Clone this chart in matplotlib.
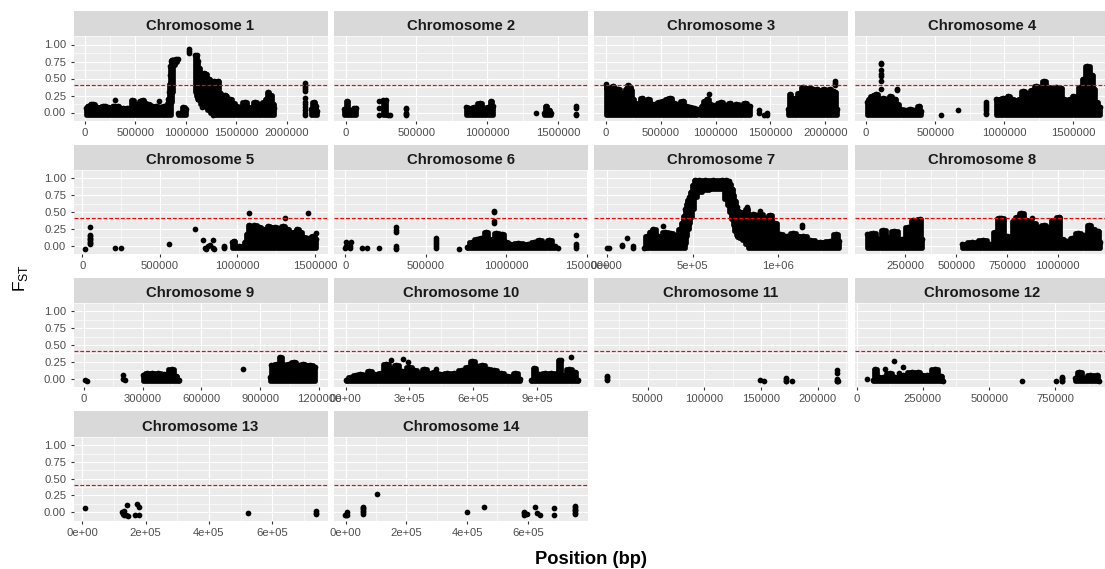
import numpy as np
import matplotlib
matplotlib.use("Agg")
import matplotlib.pyplot as plt

plt.rcParams['font.family'] = ['Liberation Sans', 'DejaVu Sans']
plt.rcParams['mathtext.fontset'] = 'custom'
plt.rcParams['mathtext.rm'] = 'Liberation Sans'

nan = float('nan')
threshold = 0.41
floor = -0.04

# pos/top/low = outline of the overplotted point clouds, nan = gap between clouds
chr1_pos = [5000, 30000, 60000, 80000, 115000, 150000, 175000, 200000, 225000, 250000, 275000, 300000, 325000, 350000,
            375000, 400000, 420000, 440000, 470000, 495000, 520000, 545000, 570000, 595000, 620000, 660000, 700000,
            740000, 780000, 805000, 820000, 826000, 832000, 838000, 842000, 846000, 850000, 858000, 865000, 872000,
            880000, 900000, 925000, nan,
            925000, 945000, 975000, 1000000, nan,
            1090000, 1105000, 1115000, 1130000, 1150000, 1175000, 1200000, 1225000, 1250000, 1280000, 1320000, 1340000,
            1355000, 1370000, 1385000, 1400000, 1420000, 1440000, 1470000, 1500000, 1540000, 1580000, 1620000, 1650000,
            1680000, 1730000, 1770000, 1790000, 1810000, 1835000, 1860000, 1875000, nan,
            2235000, 2265000, 2285000, 2300000]
chr1_top = [0.07, 0.09, 0.13, 0.12, 0.08, 0.07, 0.09, 0.1, 0.08, 0.07, 0.09, 0.1, 0.09, 0.07,
            0.06, 0.04, 0.06, 0.07, 0.18, 0.12, 0.13, 0.17, 0.18, 0.14, 0.12, 0.1, 0.09,
            0.08, 0.09, 0.1, 0.14, 0.2, 0.3, 0.42, 0.55, 0.68, 0.76, 0.77, 0.77, 0.77,
            0.77, 0.78, 0.79, nan,
            -0.01, 0.0, 0.08, 0.05, nan,
            0.84, 0.84, 0.76, 0.66, 0.56, 0.58, 0.56, 0.5, 0.47, 0.47, 0.47, 0.28,
            0.2, 0.14, 0.26, 0.24, 0.18, 0.2, 0.14, 0.1, 0.08, 0.16, 0.04, 0.08,
            0.15, 0.13, 0.15, 0.2, 0.3, 0.26, 0.13, 0.06, nan,
            0.05, 0.16, 0.1, 0.02]
chr1_low = [-0.04] * 35 + [-0.04, 0.02, 0.15, 0.3, 0.5,
            0.7, 0.74, 0.78, nan,
            -0.04, -0.04, -0.04, -0.04, nan,
            0.3, 0.24, 0.2, 0.18, 0.13, 0.1, 0.08, 0.04, 0.0] + [-0.04] * 23 + [nan,
            -0.04, -0.04, -0.04, -0.04]
chr1_dot_x = [1026000, 1026000, 1026000, 294000, 733000, 1161000, 1267000, 2178000, 2178000, 2178000, 2178000,
              2178000, 2178000, 2178000, 2178000, 2178000, 2178000, 2178000, 2178000]
chr1_dot_y = [0.93, 0.9, 0.87, 0.19, 0.175, 0.08, -0.03, 0.44, 0.41, 0.38, 0.35,
              0.31, 0.22, 0.16, 0.12, 0.08, 0.04, 0.0, -0.03]

chr2_pos = [-10000, 10000, 25000, 45000, 60000, 75000, nan, 265000, 285000, nan,
            850000, 870000, 905000, 950000, 975000, 1005000, 1025000, 1040000, nan,
            1395000, 1410000, 1430000, 1450000]
chr2_top = [0.05, 0.17, 0.03, -0.01, 0.06, 0.06, nan, 0.19, 0.19, nan,
            0.08, 0.02, 0.08, 0.14, 0.07, 0.08, 0.17, 0.1, nan,
            0.0, 0.09, 0.03, -0.01]
chr2_dot_x = [235000, 235000, 235000, 300000, 310000, 429000, 429000, 429000, 429000, 429000, 1341000,
              1624000, 1624000, 1624000, 1624000]
chr2_dot_y = [0.17, 0.06, -0.03, -0.03, -0.03, 0.06, 0.05, 0.0, -0.02, -0.04, 0.0,
              0.09, 0.07, -0.02, -0.04]

chr3_pos = [0, 12000, 25000, 45000, 65000, 85000, 100000, 115000, 140000, 160000, 185000, 205000, 220000, 235000, 250000,
            265000, 300000, 330000, 345000, 360000, 390000, 420000, 450000, 490000, 525000, 555000, 585000, 620000,
            650000, 700000, 735000, 770000, 800000, 830000, nan,
            860000, 880000, 900000, 925000, 950000, 975000, 1000000, 1025000, 1050000, 1090000, 1130000, 1160000,
            1190000, 1230000, 1270000, 1310000, nan,
            1660000, 1680000, 1700000, 1720000, 1760000, 1800000, 1830000, 1860000, 1890000, 1920000, 1950000,
            1985000, 2010000, 2040000, 2065000, 2090000, 2110000]
chr3_top = [0.42, 0.36, 0.34, 0.37, 0.39, 0.31, 0.34, 0.34, 0.26, 0.29, 0.34, 0.4, 0.37, 0.33, 0.2,
            0.13, 0.14, 0.22, 0.15, 0.17, 0.2, 0.12, 0.13, 0.15, 0.17, 0.2, 0.22, 0.14,
            0.13, 0.17, 0.1, 0.08, 0.07, 0.05, nan,
            0.02, 0.1, 0.17, 0.2, 0.13, 0.11, 0.1, 0.14, 0.15, 0.11, 0.14, 0.1,
            0.13, 0.1, 0.14, 0.09, nan,
            0.05, 0.27, 0.22, 0.2, 0.28, 0.38, 0.34, 0.36, 0.32, 0.35, 0.31, 0.34, 0.3, 0.35, 0.31, 0.3, 0.05]
chr3_dot_x = [945000, 1400000, 1400000, 1440000, 1470000, 1470000, 2090000, 2090000, 2090000]
chr3_dot_y = [0.27, 0.03, -0.01, -0.03, -0.03, -0.01, 0.47, 0.44, 0.41]

chr4_pos = [5000, 20000, 40000, 60000, 75000, 100000, 125000, 150000, 175000, 195000, 210000, 225000, 245000, 285000,
            320000, 350000, 385000, 400000, nan,
            940000, 965000, 990000, 1010000, 1025000, 1055000, 1085000, 1110000, 1135000, 1165000, 1200000, 1230000,
            1260000, 1290000, 1315000, 1340000, 1375000, 1410000, 1430000, 1450000, 1475000, 1500000, 1525000,
            1545000, 1560000, 1570000, 1600000, 1635000, 1650000, 1660000, 1690000]
chr4_top = [0.15, 0.2, 0.24, 0.26, 0.27, 0.2, 0.22, 0.17, 0.24, 0.2, 0.2, 0.12, 0.05, 0.03,
            0.05, 0.04, 0.1, 0.02, nan,
            0.2, 0.18, 0.22, 0.2, 0.25, 0.2, 0.15, 0.2, 0.32, 0.28, 0.33, 0.39,
            0.36, 0.47, 0.38, 0.36, 0.38, 0.36, 0.2, 0.15, 0.2, 0.24, 0.2,
            0.38, 0.3, 0.5, 0.69, 0.55, 0.35, 0.15, 0.08]
chr4_dot_x = [105000, 105000, 108000, 108000, 108000, 105000, 108000, 225000, 225000, 544000, 664000,
              869000, 869000, 869000, 869000, 869000, 869000, 869000]
chr4_dot_y = [0.73, 0.71, 0.62, 0.57, 0.53, 0.47, 0.34, 0.35, 0.33, -0.03, 0.04,
              0.15, 0.12, 0.09, 0.06, 0.03, 0.0, -0.02]

chr5_pos = [965000, 975000, 990000, 1010000, 1035000, 1050000, 1060000, 1075000, 1090000, 1110000, 1140000, 1165000,
            1185000, 1200000, 1220000, 1240000, 1265000, 1295000, 1320000, 1340000, 1365000, 1385000, 1405000, 1425000,
            1460000, 1490000, 1510000]
chr5_top = [0.06, 0.07, 0.0, -0.01, -0.01, 0.05, 0.17, 0.31, 0.26, 0.31, 0.27, 0.24, 0.18, 0.29, 0.22, 0.27,
            0.2, 0.29, 0.24, 0.15, 0.2, 0.24, 0.2, 0.13, 0.12, 0.15, 0.1]
chr5_dot_x = [17000, 52000, 52000, 52000, 52000, 52000, 52000, 52000, 52000, 52000, 213000, 249000, 561000, 729000,
              780000, 843000, 789000, 811000, 843000, 800000, 849000, 821000, 914000, 914000, 914000,
              1075000, 1309000, 1458000, 1505000]
chr5_dot_y = [-0.05, 0.27, 0.16, 0.14, 0.12, 0.1, 0.08, 0.06, 0.04, 0.02, -0.03, -0.04, 0.02, 0.245,
              0.09, 0.09, -0.04, 0.0, -0.03, -0.05, -0.05, 0.01, 0.0, -0.02, -0.04,
              0.48, 0.41, 0.48, 0.19]

chr6_pos = [755000, 785000, 815000, 845000, 875000, 895000, 910000, 935000, 970000, 995000, 1020000, 1075000, 1135000,
            1170000, 1205000, 1235000, 1265000, 1300000]
chr6_top = [-0.02, 0.06, 0.1, 0.12, 0.2, 0.1, 0.05, 0.19, 0.17, 0.06, 0.03, 0.04, 0.03,
            0.05, 0.08, 0.04, 0.08, -0.01]
chr6_dot_x = [5000, 36000, 0, 29000, 5000, 29000, 100000, 131000, 207000, 314000, 314000, 314000, 314000, 314000,
              314000, 564000, 564000, 564000, 564000, 564000, 564000, 707000, 926000, 926000, 926000, 926000,
              1321000, 1431000, 1431000, 1431000, 1431000]
chr6_dot_y = [0.06, 0.06, -0.03, -0.03, 0.0, 0.0, -0.04, -0.04, -0.03, 0.27, 0.23, 0.2, 0.0, -0.03,
              -0.05, 0.11, 0.08, 0.05, 0.02, -0.01, -0.04, -0.05, 0.52, 0.5, 0.37, 0.34,
              -0.04, 0.16, 0.03, 0.0, -0.04]

chr7_pos = [215000, 235000, 255000, 272000, 300000, 340000, 370000, 400000, 427000, 437000, 450000, 458000, 466000, 474000,
            482000, 490000, 500000, 515000, 535000, 570000, 620000, 670000, 695000, 710000, 720000, 730000, 738000, 748000,
            757000, 767000, 777000, 795000, 816000, 835000, 855000, 875000, 893000, 925000, 951000, 980000,
            1010000, 1049000, 1087000, 1115000, 1146000, 1185000, 1243000, 1301000, 1336000, 1355000]
chr7_top = [-0.03, 0.15, 0.2, 0.24, 0.15, 0.2, 0.19, 0.16, 0.24, 0.34, 0.44, 0.54, 0.62, 0.68,
            0.72, 0.8, 0.9, 0.98, 0.97, 0.98, 0.98, 0.98, 0.98, 0.96, 0.92, 0.84, 0.76, 0.66,
            0.57, 0.52, 0.5, 0.47, 0.55, 0.46, 0.47, 0.42, 0.47, 0.41, 0.45, 0.34,
            0.17, 0.15, 0.19, 0.14, 0.15, 0.08, 0.05, 0.07, 0.17, 0.07]
chr7_low = [-0.04, -0.04, -0.04, -0.04, -0.04, -0.04, -0.04, -0.04, -0.04, -0.04, -0.04, 0.04, 0.14, 0.24,
            0.34, 0.42, 0.55, 0.72, 0.8, 0.82, 0.84, 0.84, 0.7, 0.6, 0.5, 0.4, 0.3, 0.22,
            0.16, 0.13, 0.12, 0.08, 0.03] + [-0.04] * 17
chr7_dot_x = [0, 14000, 91000, 91000, 118000, 151000, 151000, 330000, 816000, 893000, 1136000, 1136000]
chr7_dot_y = [-0.03, -0.04, 0.01, -0.01, 0.12, -0.01, -0.04, 0.29, 0.58, 0.52, 0.3, 0.27]

chr8_pos = [60000, 93000, 117000, 142000, 167000, 196000, 232000, 265000, 290000, 322000, 332000, nan,
            527000, 576000, 634000, 668000, 690000, 712000, 720000, 750000, 770000, 783000, 800000, 821000, 845000,
            880000, 905000, 930000, 955000, 980000, 1005000, 1020000, 1045000, 1070000, 1100000, 1130000, 1155000,
            1175000, 1195000, 1205000]
chr8_top = [0.17, 0.19, 0.1, 0.23, 0.13, 0.22, 0.1, 0.27, 0.38, 0.39, 0.1, nan,
            0.03, 0.06, 0.08, 0.03, 0.2, 0.41, 0.41, 0.15, 0.03, 0.36, 0.42, 0.49, 0.38,
            0.33, 0.28, 0.31, 0.28, 0.38, 0.43, 0.1, 0.07, 0.12, 0.19, 0.16, 0.3,
            0.24, 0.22, 0.05]
chr8_dot_x = [872000]
chr8_dot_y = [0.41]

chr9_pos = [300000, 320000, 350000, 380000, 410000, 450000, 470000, 485000, nan,
            950000, 955000, 985000, 1000000, 1020000, 1045000, 1070000, 1095000, 1115000, 1135000, 1155000, 1180000]
chr9_top = [0.05, 0.08, 0.08, 0.08, 0.07, 0.15, 0.04, -0.02, nan,
            0.02, 0.2, 0.22, 0.32, 0.2, 0.21, 0.25, 0.2, 0.22, 0.18, 0.2, 0.17]
chr9_dot_x = [6000, 19000, 202000, 202000, 210000, 812000]
chr9_dot_y = [-0.02, -0.04, 0.06, -0.01, -0.02, 0.15]

chr10_pos = [0, 25000, 47000, 70000, 94000, 111000, 135000, 165000, 189000, 215000, 236000, 265000, 298000, 322000,
             345000, 369000, 392000, 416000, 445000, 478000, 510000, 548000, 575000, 595000, 620000, 642000, 670000,
             697000, 728000, 759000, 780000, 795000, 819000, nan,
             870000, 885000, 905000, 935000, 965000, 995000, 1000000, 1010000, 1015000, 1050000, 1075000, 1090000]
chr10_top = [-0.02, 0.02, 0.05, 0.07, 0.05, 0.12, 0.07, 0.08, 0.22, 0.16, 0.2, 0.12, 0.17, 0.13,
             0.08, 0.15, 0.09, 0.1, 0.07, 0.08, 0.09, 0.13, 0.18, 0.26, 0.19, 0.2, 0.15,
             0.13, 0.08, 0.04, 0.02, 0.08, -0.01, nan,
             -0.02, 0.16, 0.07, 0.09, 0.08, 0.06, 0.28, 0.28, 0.06, 0.15, 0.1, -0.02]
chr10_dot_x = [212000, 270000, 294000, 422000, 1056000]
chr10_dot_y = [0.27, 0.29, 0.24, 0.145, 0.32]

chr11_pos = []
chr11_top = []
chr11_dot_x = [13900, 13900, 13900, 13900, 149000, 152500, 172000, 172000, 172000, 172000, 177000,
               216500, 216500, 216500, 216500, 216500, 217500]
chr11_dot_y = [0.04, 0.02, 0.0, -0.02, -0.02, -0.03, 0.01, -0.01, -0.03, -0.04, -0.03,
               0.13, 0.09, 0.0, -0.03, -0.04, -0.04]

chr12_pos = [60000, 70000, 85000, 100000, 125000, 145000, 160000, 175000, 207000, 232000, 248000, 264000, 295000, 320000,
             327000, nan,
             822000, 838000, 860000, 880000, 905000, 915000]
chr12_top = [-0.02, 0.15, 0.03, 0.02, 0.08, 0.02, 0.03, 0.06, 0.1, 0.1, 0.05, 0.06, 0.14, 0.04,
             -0.03, nan,
             0.01, 0.1, 0.01, 0.05, 0.06, -0.03]
chr12_dot_x = [38000, 140000, 176000, 105000, 158000, 625000, 751000, 775000, 775000, 775000, 775000, 775000]
chr12_dot_y = [-0.005, 0.26, 0.18, 0.14, 0.09, -0.03, -0.03, 0.03, 0.01, -0.01, -0.03, -0.04]

chr13_pos = []
chr13_top = []
chr13_dot_x = [8500, 140000, 125000, 133000, 139000, 127000, 143000, 133000, 173000, 178000, 166000, 180000,
               524000, 738000, 738000, 738000]
chr13_dot_y = [0.06, 0.1, 0.0, 0.01, -0.04, -0.03, -0.06, -0.04, 0.125, 0.075, -0.04, -0.04,
               -0.02, 0.01, -0.01, -0.03]

chr14_pos = []
chr14_top = []
chr14_dot_x = [2500, -2000, 6000, 6000, 59000, 59000, 59000, 59000, 59000, 59000, 103000, 399000, 457000,
               586000, 586000, 586000, 598000, 625000, 629000, 639000, 685000, 685000,
               756000, 756000, 756000, 756000, 756000, 756000, 756000]
chr14_dot_y = [-0.04, -0.05, 0.0, -0.04, 0.08, 0.06, 0.04, 0.02, 0.0, -0.03, 0.27, -0.005, 0.075,
               0.0, -0.02, -0.04, -0.03, 0.075, -0.02, -0.04, 0.06, -0.04,
               0.09, 0.07, 0.05, 0.03, 0.01, -0.01, -0.03]

plain_500k = [0, 500000, 1000000, 1500000]
chr_ticks = [plain_500k + [2000000], plain_500k, plain_500k + [2000000], plain_500k,
             plain_500k, plain_500k, [0, 500000, 1000000], [250000, 500000, 750000, 1000000],
             [0, 300000, 600000, 900000, 1200000], [0, 300000, 600000, 900000],
             [50000, 100000, 150000, 200000], [0, 250000, 500000, 750000],
             [0, 200000, 400000, 600000], [0, 200000, 400000, 600000]]
chr_labels = [['0', '500000', '1000000', '1500000', '2000000'], ['0', '500000', '1000000', '1500000'],
              ['0', '500000', '1000000', '1500000', '2000000'], ['0', '500000', '1000000', '1500000'],
              ['0', '500000', '1000000', '1500000'], ['0', '500000', '1000000', '1500000'],
              ['0e+00', '5e+05', '1e+06'], ['250000', '500000', '750000', '1000000'],
              ['0', '300000', '600000', '900000', '1200000'], ['0e+00', '3e+05', '6e+05', '9e+05'],
              ['50000', '100000', '150000', '200000'], ['0', '250000', '500000', '750000'],
              ['0e+00', '2e+05', '4e+05', '6e+05'], ['0e+00', '2e+05', '4e+05', '6e+05']]
chr_xlim = [(-114000, 2402000), (-81000, 1708000), (-106000, 2206000), (-82000, 1755000),
            (-57000, 1581000), (-71000, 1507000), (-74000, 1406000), (1000, 1250000),
            (-52000, 1242000), (-54000, 1137000), (2700, 226500), (-7500, 951000),
            (-28000, 775000), (-38000, 798000)]

all_pos = [chr1_pos, chr2_pos, chr3_pos, chr4_pos, chr5_pos, chr6_pos, chr7_pos, chr8_pos, chr9_pos, chr10_pos,
           chr11_pos, chr12_pos, chr13_pos, chr14_pos]
all_top = [chr1_top, chr2_top, chr3_top, chr4_top, chr5_top, chr6_top, chr7_top, chr8_top, chr9_top, chr10_top,
           chr11_top, chr12_top, chr13_top, chr14_top]
all_dot_x = [chr1_dot_x, chr2_dot_x, chr3_dot_x, chr4_dot_x, chr5_dot_x, chr6_dot_x, chr7_dot_x, chr8_dot_x,
             chr9_dot_x, chr10_dot_x, chr11_dot_x, chr12_dot_x, chr13_dot_x, chr14_dot_x]
all_dot_y = [chr1_dot_y, chr2_dot_y, chr3_dot_y, chr4_dot_y, chr5_dot_y, chr6_dot_y, chr7_dot_y, chr8_dot_y,
             chr9_dot_y, chr10_dot_y, chr11_dot_y, chr12_dot_y, chr13_dot_y, chr14_dot_y]

W, H = 1105, 569
col_left = [73.5, 334, 594, 854.7]
panel_w = 254
strip_top = [11, 145, 278, 411]
panel_top = [36, 170, 303, 437]
panel_bot = [121, 254, 387, 520.5]
row_ylim = [(-0.118, 1.09), (-0.113, 1.07), (-0.102, 1.07), (-0.105, 1.066)]

yticks = [0, 0.25, 0.5, 0.75, 1]
yminor = [-0.125 + 0.25 * i for i in range(6)]

fig = plt.figure(figsize=(W / 100, H / 100), dpi=100)

for i in range(14):
    row = i // 4
    col = i % 4
    l = col_left[col]
    ax = fig.add_axes([l / W, 1 - panel_bot[row] / H, panel_w / W, (panel_bot[row] - panel_top[row]) / H])
    ax.set_facecolor('#EBEBEB')
    for s in ax.spines.values():
        s.set_visible(False)

    # strip
    st = fig.add_axes([l / W, 1 - panel_top[row] / H, panel_w / W, (panel_top[row] - strip_top[row]) / H])
    st.set_facecolor('#D9D9D9')
    st.set_xticks([])
    st.set_yticks([])
    for s in st.spines.values():
        s.set_visible(False)
    st.text(0.5, 0.4, 'Chromosome %d' % (i + 1), ha='center', va='center', transform=st.transAxes,
            fontsize=10.7, fontweight='bold', color='#1A1A1A')

    xlim = chr_xlim[i]
    ticks = chr_ticks[i]
    step = ticks[1] - ticks[0]
    ax.set_xlim(xlim)
    ax.set_ylim(row_ylim[row])
    xminor = [t + step / 2 for t in [ticks[0] - step] + ticks]
    xminor = [t for t in xminor if xlim[0] < t < xlim[1]]
    ax.set_xticks(ticks)
    ax.set_xticklabels(chr_labels[i])
    ax.set_xticks(xminor, minor=True)
    ax.set_yticks(yticks)
    ax.set_yticks(yminor, minor=True)
    ax.grid(True, which='major', color='white', lw=0.85)
    ax.grid(True, which='minor', color='white', lw=0.45)
    ax.set_axisbelow(True)
    ax.tick_params(which='minor', length=0)
    ax.tick_params(which='major', length=2.3, width=0.8, color='#333333', labelcolor='#4D4D4D',
                   labelsize=8.1, pad=3)
    if col == 0:
        ax.set_yticklabels(['0.00', '0.25', '0.50', '0.75', '1.00'])
    else:
        ax.tick_params(axis='y', which='major', length=0, labelleft=False)

    if len(all_pos[i]) > 0:
        pos = np.array(all_pos[i], dtype=float)
        top = np.array(all_top[i], dtype=float)
        if i == 0:
            low = np.array(chr1_low, dtype=float)
        elif i == 6:
            low = np.array(chr7_low, dtype=float)
        else:
            low = np.where(np.isnan(pos), nan, floor)
        ax.fill_between(pos, low, top, color='black', lw=3.4, joinstyle='round', step='mid', zorder=3)
        ax.scatter(pos, top, s=17, color='black', linewidths=0, zorder=3)
    ax.scatter(all_dot_x[i], all_dot_y[i], s=17, color='black', linewidths=0, zorder=3)
    ax.axhline(threshold, color='red', lw=0.85, dashes=(3.3, 1.6), zorder=4)

fig.text(591 / W, 1 - 560 / H, 'Position (bp)', ha='center', va='center', fontsize=13.2, fontweight='bold')
fig.text(21 / W, 1 - 278 / H, r'F$_{\mathrm{ST}}$', ha='center', va='center', rotation=90, fontsize=12.5)

fig.savefig('out.png', dpi=100)
